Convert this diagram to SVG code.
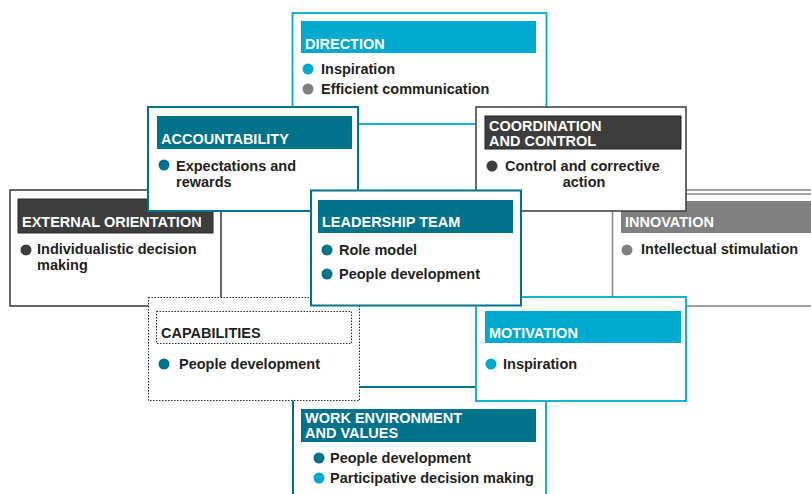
<svg xmlns="http://www.w3.org/2000/svg" width="811" height="494" viewBox="0 0 811 494">
<style>
.t{font-family:"Liberation Sans",Arial,sans-serif;font-weight:bold;font-size:14.5px;fill:#231f20}
.h{font-family:"Liberation Sans",Arial,sans-serif;font-weight:bold;font-size:14.5px;fill:#ffffff}
.box{fill:#ffffff}
.lb{stroke:#00a9ce;stroke-width:1.8}
.tl{stroke:#00728a;stroke-width:2}
.dk{stroke:#454545;stroke-width:1.6}
.gr{stroke:#8a8a8a;stroke-width:1.6}
.dot{fill:#ffffff;stroke:#222;stroke-width:1;stroke-dasharray:1.5 1.5}
.fLb{fill:#00a9ce}
.fTl{fill:#00728a}
.fDk{fill:#3d3d3d}
.fGr{fill:#808080}
</style>
<rect width="811" height="494" fill="#ffffff"/>

<!-- back layer -->
<g id="direction">
<rect class="box lb" x="292.5" y="13" width="254" height="111"/>
<rect class="fLb" x="301" y="21" width="235" height="32"/>
<text class="h" x="305" y="48.5">DIRECTION</text>
<circle class="fLb" cx="308" cy="69" r="5.5"/>
<text class="t" x="321" y="74">Inspiration</text>
<circle class="fGr" cx="308" cy="89" r="5.5"/>
<text class="t" x="321" y="94">Efficient communication</text>
</g>

<g id="external-orientation">
<rect class="box dk" x="10" y="190" width="211" height="116"/>
<rect class="fDk" x="18" y="199" width="195" height="34" stroke="#2a2a2a" stroke-width="1"/>
<text class="h" x="22" y="227">EXTERNAL ORIENTATION</text>
<circle class="fDk" cx="26" cy="250" r="5.5"/>
<text class="t" x="37" y="254">Individualistic decision</text>
<text class="t" x="37" y="270">making</text>
</g>

<g id="innovation">
<rect class="box gr" x="612.5" y="190" width="230" height="116"/>
<line class="gr" x1="612.5" y1="194" x2="811" y2="194" stroke-width="1.2"/>
<rect class="fGr" x="621" y="201" width="200" height="32"/>
<text class="h" x="625" y="227">INNOVATION</text>
<circle class="fGr" cx="627" cy="250" r="5.5"/>
<text class="t" x="641" y="254">Intellectual stimulation</text>
</g>

<g id="work-environment">
<rect class="box" x="293" y="387" width="253" height="120"/>
<path class="tl" fill="none" d="M293 500 V387 H546"/>
<path class="lb" fill="none" d="M546 387 V500"/>
<rect class="fTl" x="301" y="409" width="235" height="33"/>
<text class="h" x="305" y="423">WORK ENVIRONMENT</text>
<text class="h" x="305" y="438">AND VALUES</text>
<circle class="fTl" cx="319" cy="458" r="5.5"/>
<text class="t" x="330" y="463">People development</text>
<circle class="fLb" cx="319" cy="478" r="5.5"/>
<text class="t" x="330" y="483">Participative decision making</text>
</g>

<!-- middle layer -->
<g id="accountability">
<rect class="box tl" x="148" y="107" width="210" height="104"/>
<rect class="fTl" x="157" y="116" width="195" height="33"/>
<text class="h" x="161" y="144">ACCOUNTABILITY</text>
<circle class="fTl" cx="164" cy="165" r="5.5"/>
<text class="t" x="176" y="171">Expectations and</text>
<text class="t" x="176" y="187">rewards</text>
</g>

<g id="coordination-and-control">
<rect class="box dk" x="476" y="107" width="210" height="104"/>
<rect class="fDk" x="485" y="116" width="196" height="33" stroke="#222" stroke-width="1"/>
<text class="h" x="489" y="131">COORDINATION</text>
<text class="h" x="489" y="145.5">AND CONTROL</text>
<circle class="fDk" cx="492" cy="166" r="5.5"/>
<text class="t" x="505" y="171">Control and corrective</text>
<text class="t" x="584" y="186.5" text-anchor="middle">action</text>
</g>

<g id="capabilities">
<rect class="dot" x="148.5" y="297.5" width="211" height="103"/>
<rect class="dot" x="156.5" y="311.5" width="195" height="32"/>
<text class="t" x="161" y="338">CAPABILITIES</text>
<circle class="fTl" cx="164" cy="364" r="5.5"/>
<text class="t" x="179" y="369">People development</text>
</g>

<g id="motivation">
<rect class="box lb" x="476" y="297" width="210" height="104"/>
<rect class="fLb" x="485" y="311" width="196" height="32"/>
<text class="h" x="489" y="338">MOTIVATION</text>
<circle class="fLb" cx="491" cy="364" r="5.5"/>
<text class="t" x="503" y="369">Inspiration</text>
</g>

<!-- front -->
<g id="leadership-team">
<rect class="box tl" x="311" y="190.5" width="210" height="115"/>
<rect class="fTl" x="318" y="200" width="195" height="33"/>
<text class="h" x="322" y="227">LEADERSHIP TEAM</text>
<circle class="fTl" cx="327" cy="250" r="5.5"/>
<text class="t" x="339" y="255">Role model</text>
<circle class="fTl" cx="327" cy="274" r="5.5"/>
<text class="t" x="339" y="279">People development</text>
</g>
</svg>
